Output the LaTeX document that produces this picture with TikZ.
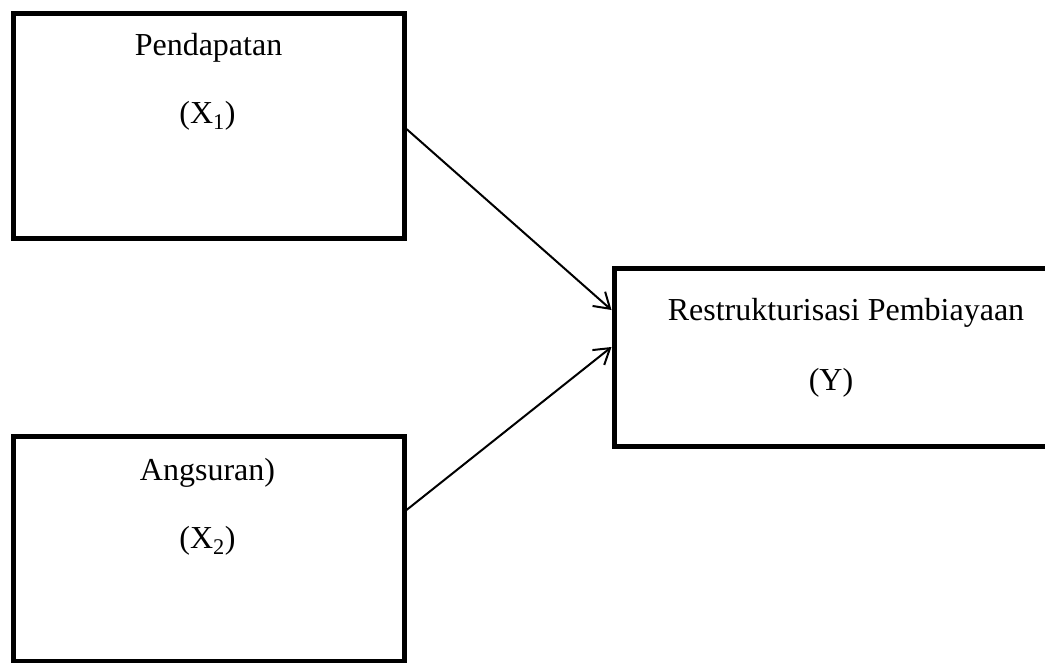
\documentclass[tikz,border=0pt]{standalone}
\usepackage{fontspec}
\setmainfont{Liberation Serif}
\usepackage{tikz}
\usetikzlibrary{positioning, arrows.meta}
\tikzset{
  varbox/.style={draw, line width=5pt, minimum width=391pt, minimum height=225pt, inner sep=0pt},
  lbl/.style={anchor=base, inner sep=0pt, font=\fontsize{32}{38}\selectfont},
  link/.style={->, line width=2pt},
  >={Straight Barb[length=15pt, width=19pt, line width=2pt]},
}

\begin{document}
\begin{tikzpicture}[x=1pt, y=-1pt]
    \useasboundingbox (0,0) rectangle (1045,662);
    \clip (0,0) rectangle (1045,662);
    \node[varbox] (inc) at (208.5,125.5) {};
    \node[varbox] (inst) at (208.5,548.5) {};
    \node[varbox, minimum width=464pt, minimum height=178pt] (restr) at (846,357) {};
    \node[lbl] (incname) at (208.5,55) {Pendapatan};
    \node[lbl] (incsym) at (207.5,123) {(X\textsubscript{1})};
    \node[lbl] (instname) at (207.5,480) {Angsuran)};
    \node[lbl] (instsym) at (207.5,548) {(X\textsubscript{2})};
    \node[lbl] (restrname) at (846,320) {Restrukturisasi Pembiayaan};
    \node[lbl] (restrsym) at (831,390) {(Y)};
    \draw[link] ([yshift=-3.5pt]inc.east) -- ([yshift=47pt]restr.west);
    \draw[link] ([yshift=38.5pt]inst.east) -- ([yshift=10pt]restr.west);
  \end{tikzpicture}
\end{document}
